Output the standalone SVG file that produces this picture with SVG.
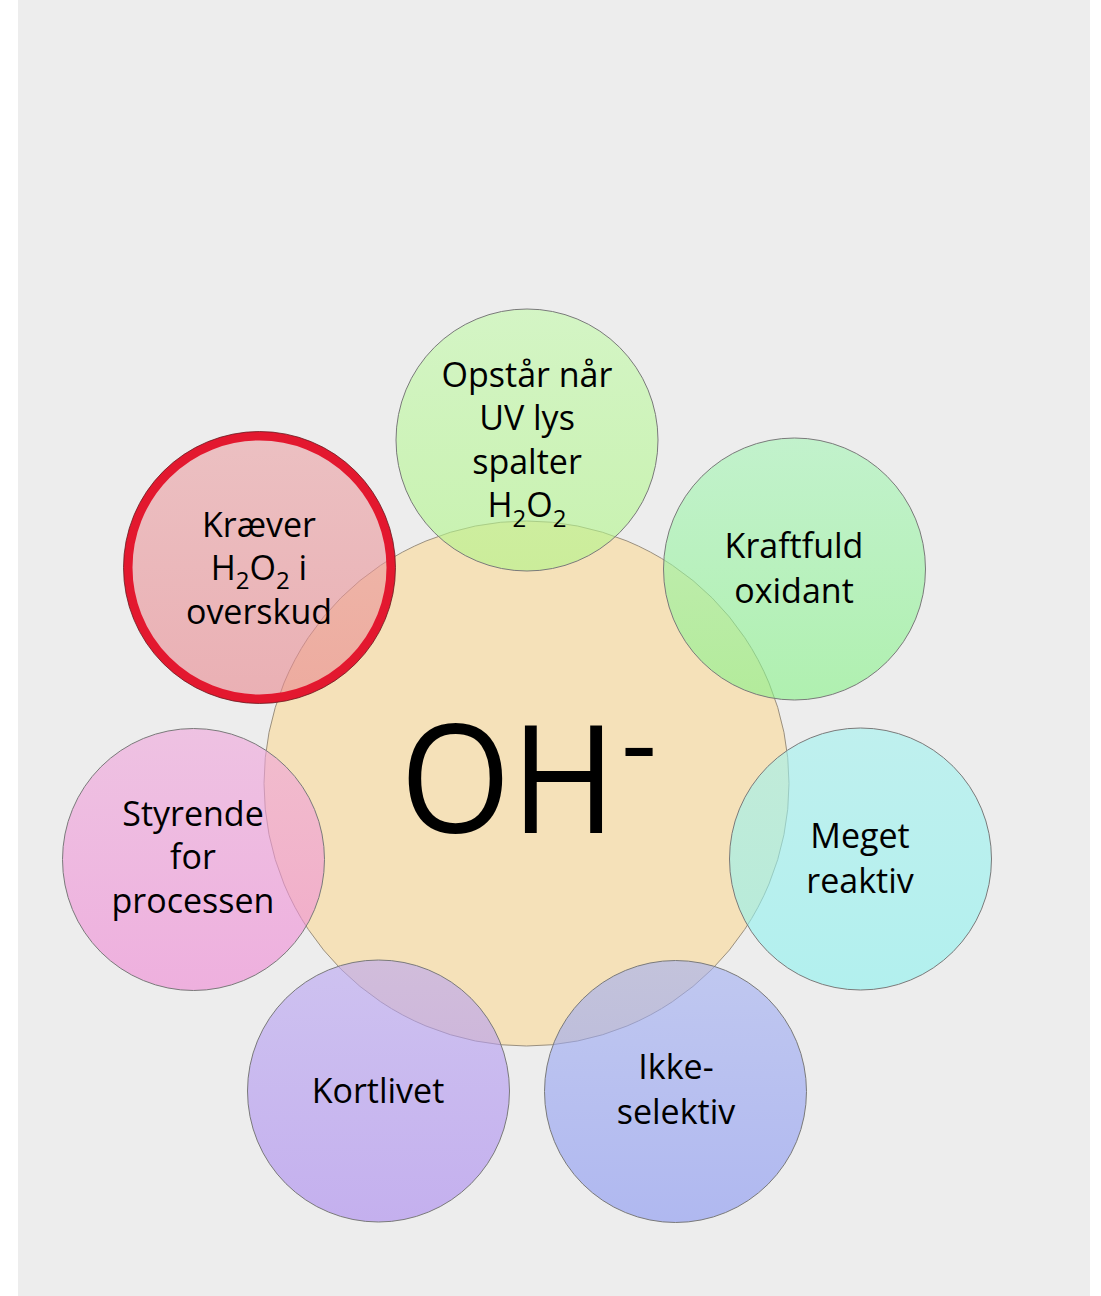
<svg xmlns="http://www.w3.org/2000/svg" width="1101" height="1296" viewBox="0 0 1101 1296">
<defs>
<style>
.lbl{font-family:"Open Sans","Noto Sans","Liberation Sans",sans-serif;font-size:34px;fill:#000;text-anchor:middle}
.sub{font-size:24px}
.sat{stroke:#7a7a7a;stroke-width:1;fill-opacity:0.6}
.big{font-family:"Open Sans","Noto Sans","Liberation Sans",sans-serif;fill:#000}
</style>
<linearGradient id="gTop" x1="0" y1="0" x2="0" y2="1"><stop offset="0" stop-color="#c3faaa"/><stop offset="1" stop-color="#aff586"/></linearGradient>
<linearGradient id="gUR" x1="0" y1="0" x2="0" y2="1"><stop offset="0" stop-color="#a5f5b6"/><stop offset="1" stop-color="#87f287"/></linearGradient>
<linearGradient id="gR" x1="0" y1="0" x2="0" y2="1"><stop offset="0" stop-color="#a0f2ef"/><stop offset="1" stop-color="#8bf2ef"/></linearGradient>
<linearGradient id="gLR" x1="0" y1="0" x2="0" y2="1"><stop offset="0" stop-color="#a2aff2"/><stop offset="1" stop-color="#8795f2"/></linearGradient>
<linearGradient id="gLL" x1="0" y1="0" x2="0" y2="1"><stop offset="0" stop-color="#b9a5f2"/><stop offset="1" stop-color="#a987ef"/></linearGradient>
<linearGradient id="gL" x1="0" y1="0" x2="0" y2="1"><stop offset="0" stop-color="#efa5db"/><stop offset="1" stop-color="#ef87d4"/></linearGradient>
<linearGradient id="gUL" x1="0" y1="0" x2="0" y2="1"><stop offset="0" stop-color="#eba2a5"/><stop offset="1" stop-color="#e8878e"/></linearGradient>
</defs>
<rect x="0" y="0" width="1101" height="1296" fill="#ffffff"/>
<rect x="18" y="0" width="1072" height="1296" fill="#ededed"/>

<g id="center">
<circle cx="526.5" cy="783.5" r="262.5" fill="#f5e1b9" stroke="#9a9080" stroke-width="1"/>
<text class="big" x="400" y="833"><tspan font-size="150" textLength="216" lengthAdjust="spacingAndGlyphs">OH</tspan><tspan font-size="112" x="621" y="782">-</tspan></text>
</g>

<g id="connectors"></g>

<g id="node-top">
<circle class="sat" cx="527" cy="440" r="131" fill="url(#gTop)"/>
<text class="lbl" x="527" y="387">Opstår når</text>
<text class="lbl" x="527" y="430">UV lys</text>
<text class="lbl" x="527" y="474">spalter</text>
<text class="lbl" x="527" y="517">H<tspan class="sub" dy="10">2</tspan><tspan dy="-10">O</tspan><tspan class="sub" dy="10">2</tspan></text>
</g>

<g id="node-upper-right">
<circle class="sat" cx="794.5" cy="569" r="131" fill="url(#gUR)"/>
<text class="lbl" x="794" y="558">Kraftfuld</text>
<text class="lbl" x="794" y="603">oxidant</text>
</g>

<g id="node-right">
<circle class="sat" cx="860.5" cy="859" r="131" fill="url(#gR)"/>
<text class="lbl" x="860" y="848">Meget</text>
<text class="lbl" x="860" y="893">reaktiv</text>
</g>

<g id="node-lower-right">
<circle class="sat" cx="675.5" cy="1091.5" r="131" fill="url(#gLR)"/>
<text class="lbl" x="676" y="1079">Ikke-</text>
<text class="lbl" x="676" y="1124">selektiv</text>
</g>

<g id="node-lower-left">
<circle class="sat" cx="378.5" cy="1091" r="131" fill="url(#gLL)"/>
<text class="lbl" x="378" y="1103">Kortlivet</text>
</g>

<g id="node-left">
<circle class="sat" cx="193.5" cy="859.5" r="131" fill="url(#gL)"/>
<text class="lbl" x="193" y="826">Styrende</text>
<text class="lbl" x="193" y="869">for</text>
<text class="lbl" x="193" y="913">processen</text>
</g>

<g id="node-upper-left">
<circle cx="259.5" cy="567.5" r="131.5" fill="url(#gUL)" fill-opacity="0.6" stroke="#e3182f" stroke-width="9"/>
<circle cx="259.5" cy="567.5" r="136" fill="none" stroke="#6a1a20" stroke-width="0.8"/>
<text class="lbl" x="259" y="537">Kræver</text>
<text class="lbl" x="259" y="580">H<tspan class="sub" dy="9">2</tspan><tspan dy="-9">O</tspan><tspan class="sub" dy="9">2</tspan><tspan dy="-9"> i</tspan></text>
<text class="lbl" x="259" y="624">overskud</text>
</g>
</svg>
